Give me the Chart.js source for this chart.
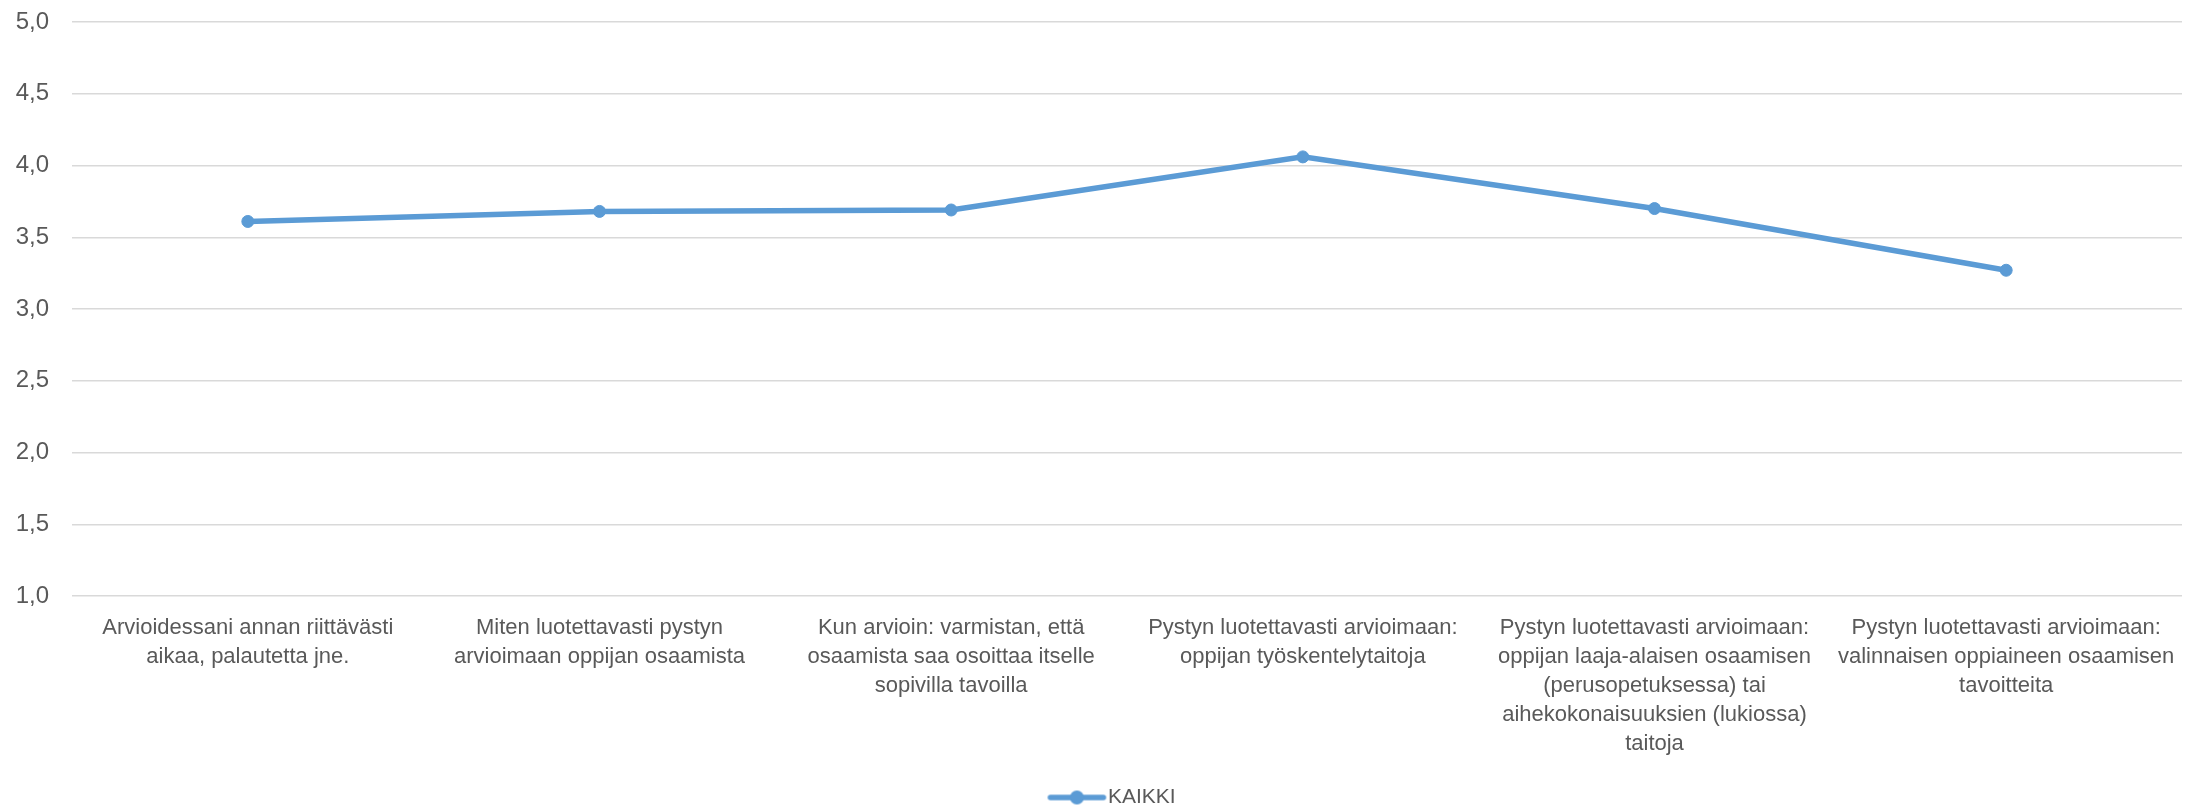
<!DOCTYPE html>
<html>
<head>
<meta charset="utf-8">
<script src="https://cdn.jsdelivr.net/npm/chart.js@4"></script>
<style>
  html, body { margin: 0; padding: 0; background: #ffffff; }
  #wrap { width: 2193px; height: 807px; }
</style>
</head>
<body>
<div id="wrap"><canvas id="c" width="2193" height="807"></canvas></div>
<script>
const categories = [
  ["Arvioidessani annan riittävästi", "aikaa, palautetta jne."],
  ["Miten luotettavasti pystyn", "arvioimaan oppijan osaamista"],
  ["Kun arvioin: varmistan, että", "osaamista saa osoittaa itselle", "sopivilla tavoilla"],
  ["Pystyn luotettavasti arvioimaan:", "oppijan työskentelytaitoja"],
  ["Pystyn luotettavasti arvioimaan:", "oppijan laaja-alaisen osaamisen", "(perusopetuksessa) tai", "aihekokonaisuuksien (lukiossa)", "taitoja"],
  ["Pystyn luotettavasti arvioimaan:", "valinnaisen oppiaineen osaamisen", "tavoitteita"]
];
const seriesName = "KAIKKI";
const kaikkiValues = [3.61, 3.68, 3.69, 4.06, 3.70, 3.27];
const yMin = 1.0;
const yMax = 5.0;
const yStep = 0.5;

const FONT = "'Liberation Sans', Arial, sans-serif";
const BLUE = '#5B9BD5';
const TEXT = '#595959';

// legend symbol: line with a round marker (image wider than box, shifted right)
const sym = document.createElement('canvas');
sym.width = 72; sym.height = 16;
(function () {
  const g = sym.getContext('2d');
  g.strokeStyle = BLUE; g.lineWidth = 5.5; g.lineCap = 'round';
  g.beginPath(); g.moveTo(15, 8); g.lineTo(68, 8); g.stroke();
  g.fillStyle = BLUE; g.beginPath(); g.arc(41.5, 8, 7, 0, Math.PI * 2); g.fill();
})();

const legendShift = {
  id: 'legendShift',
  afterLayout(chart) {
    if (chart.legend) { chart.legend.left += 39; }
  }
};

new Chart(document.getElementById('c'), {
  type: 'line',
  data: {
    labels: categories,
    datasets: [{
      label: seriesName,
      data: kaikkiValues,
      borderColor: BLUE,
      backgroundColor: BLUE,
      borderWidth: 5.5,
      pointRadius: 6,
      pointBorderWidth: 1,
      pointBackgroundColor: BLUE,
      pointBorderColor: BLUE,
      tension: 0,
      fill: false
    }]
  },
  plugins: [legendShift],
  options: {
    responsive: false,
    animation: false,
    layout: { padding: { left: 0, right: 11, top: 22, bottom: -11 } },
    plugins: {
      tooltip: { enabled: false },
      legend: {
        position: 'bottom',
        labels: {
          usePointStyle: true,
          pointStyleWidth: 52,
          boxHeight: 16,
          color: TEXT,
          font: { family: FONT, size: 21 },
          padding: 0,
          generateLabels: (chart) => [{
            text: seriesName,
            pointStyle: sym,
            fillStyle: BLUE,
            strokeStyle: BLUE,
            lineWidth: 0,
            hidden: false,
            datasetIndex: 0,
            fontColor: TEXT
          }]
        }
      }
    },
    scales: {
      x: {
        offset: true,
        grid: { display: false, drawTicks: false, offset: true },
        border: { display: false },
        ticks: {
          color: TEXT,
          font: { family: FONT, size: 22, lineHeight: '29px' },
          padding: 17,
          maxRotation: 0,
          autoSkip: false
        },
        afterFit: (s) => { s.height = 191; s.paddingLeft = 0; s.paddingRight = 0; }
      },
      y: {
        min: yMin,
        max: yMax,
        grid: { color: '#D9D9D9', lineWidth: 1.5, drawTicks: false },
        border: { display: false },
        ticks: {
          stepSize: yStep,
          color: TEXT,
          font: { family: FONT, size: 24 },
          padding: 23,
          callback: (v) => Number(v).toFixed(1).replace('.', ',')
        },
        afterFit: (s) => { s.width = 72; s.paddingTop = 0; s.paddingBottom = 0; }
      }
    }
  }
});
</script>
</body>
</html>
